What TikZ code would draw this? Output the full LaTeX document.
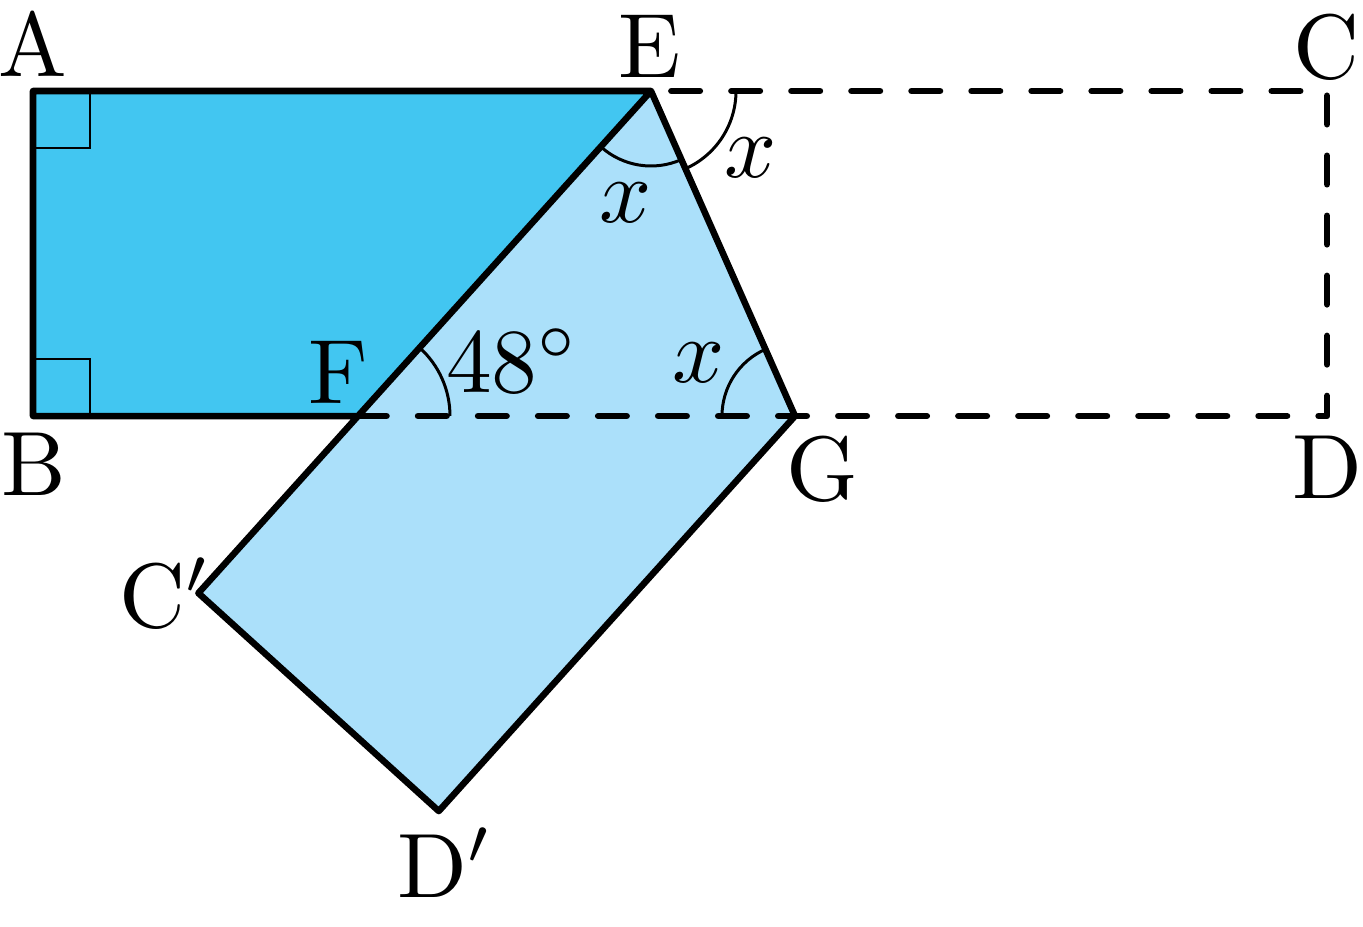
\documentclass[tikz,border=0pt]{standalone}
\usepackage{tikz}
\usetikzlibrary{calc}
\definecolor{deepsky}{HTML}{42C6F1}
\definecolor{palesky}{HTML}{ABE0FA}
\tikzset{
	edge/.style={line width=1.85pt, line join=round, line cap=round},
	fold/.style={line width=1.85pt, line join=round, line cap=round, dash pattern=on 0.285cm off 0.315cm},
	anglemark/.style={line width=0.85pt},
	lbl/.style={inner sep=0pt, anchor=base, scale=2.6}
}

\begin{document}
\begin{tikzpicture}[x=0.01cm, y=0.01cm]
			%%%%% START %%%%%
			\useasboundingbox (0,0) rectangle (1363,926);
			
			\coordinate (A) at (33,835);
			\coordinate (E) at (651,835);
			\coordinate (C) at (1327,835);
			\coordinate (B) at (33,510);
			\coordinate (F) at (358,510);
			\coordinate (G) at (795,510);
			\coordinate (D) at (1327,510);
			\coordinate (Cp) at (198.4,332.9);
			\coordinate (Dp) at (438.8,114.9);
			
			\fill[palesky] (E) -- (G) -- (Dp) -- (Cp) -- cycle;
			\fill[deepsky] (A) -- (E) -- (F) -- (B) -- cycle;
			
			\draw[fold] (F) -- (D) -- (C) -- (E);
			
			\draw[anglemark] (A) ++(0,-57) -- ++(57,0) -- ++(0,57);
			\draw[anglemark] (B) ++(0,57) -- ++(57,0) -- ++(0,-57);
			
			\draw[edge] (F) -- (B) -- (A) -- (E) -- (G) -- (Dp) -- (Cp) -- (E);
			
			\draw[anglemark] (F) ++(0:92) arc (0:48:92);
			\draw[anglemark] (G) ++(113.9:73) arc (113.9:180:73);
			\draw[anglemark] (E) ++(228:75) arc (228:293.9:75);
			\draw[anglemark] (E) ++(293.9:85) arc (293.9:360:85);
			
			\node[lbl] (lA) at (33,850) {A};
			\node[lbl] (lE) at (650,849) {E};
			\node[lbl] (lC) at (1326,848) {C};
			\node[lbl] (lB) at (34,431) {B};
			\node[lbl] (lF) at (338,523) {F};
			\node[lbl] (lG) at (822,426) {G};
			\node[lbl] (lD) at (1327,428) {D};
			\node[lbl] (lCp) at (165,299) {C$'$};
			\node[lbl] (lDp) at (445,29) {D$'$};
			\node[lbl] (l48) at (513,534) {$48^\circ$};
			\node[lbl] (xG) at (698.5,544) {$x$};
			\node[lbl] (xEin) at (625.5,704) {$x$};
			\node[lbl] (xEout) at (750.5,749) {$x$};
			
			%%%%% END %%%%%
\end{tikzpicture}
\end{document}
